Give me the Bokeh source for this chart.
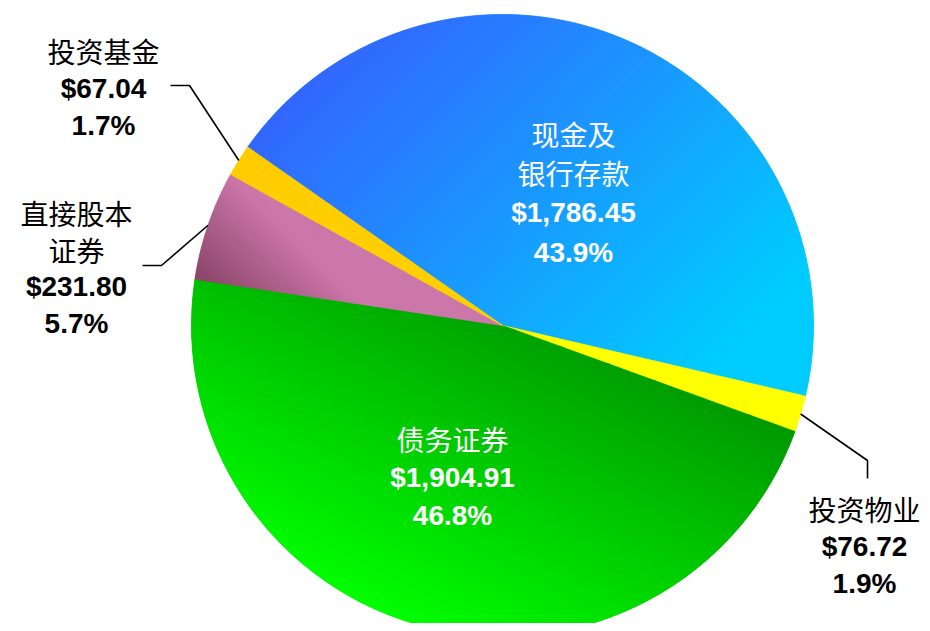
import numpy as np
from bokeh.plotting import figure
from bokeh.models import Range1d, ColumnDataSource
from bokeh.core.properties import value
from bokeh.embed import file_html
from bokeh.resources import INLINE

# ---------------- data ----------------
categories = ["现金及银行存款", "投资物业", "债务证券", "直接股本证券", "投资基金"]
name_lines = [["现金及", "银行存款"], ["投资物业"], ["债务证券"], ["直接股本", "证券"], ["投资基金"]]
amounts = [1786.45, 76.72, 1904.91, 231.80, 67.04]
percent_labels = ["43.9%", "1.9%", "46.8%", "5.7%", "1.7%"]

# ---------------- style / layout ----------------
W, H = 922, 623
CX, CY, R = 502.0, -325.0, 311.0        # data y = -picture y
START_DEG = 145.0                       # first slice starts here, goes clockwise

# gradient: screen direction, colour stops
grad = [
    ((1.0, 1.0), [(0.0, "#3366ff"), (0.85, "#00ccff"), (1.0, "#00ccff")]),
    ((1.0, 0.0), [(0.0, "#ffff00"), (1.0, "#ffff00")]),
    ((0.5, -1.0), [(0.0, "#00ff00"), (1.0, "#009900")]),
    ((1.0, -1.0), [(0.0, "#884466"), (0.55, "#cc77aa"), (1.0, "#cc77aa")]),
    ((1.0, 1.0), [(0.0, "#ffcc00"), (1.0, "#ffd000")]),
]
# label layout: (centre x, first line y, line step, colour) in picture pixels
label_layout = [
    (573, 133, 39.5, "white"),
    (864, 508, 37.5, "black"),
    (452, 438, 38.5, "white"),
    (76, 212, 37.0, "black"),
    (103, 50, 37.5, "black"),
]
# leader line elbows / ends for outside labels (picture pixels)
leaders = {
    1: [(867, 460), (867, 478)],
    3: [(161, 265), (142, 265)],
    4: [(189, 85), (170, 85)],
}

CJK_FONT = "Noto Sans CJK SC"
NUM_FONT = "Liberation Sans"

# ---------------- helpers ----------------
def hex2rgb(h):
    h = h.lstrip("#")
    return np.array([int(h[i:i + 2], 16) for i in (0, 2, 4)], float)


def color_at(stops, t):
    for (t0, c0), (t1, c1) in zip(stops[:-1], stops[1:]):
        if t <= t1 or (t1 == stops[-1][0]):
            f = 0.0 if t1 == t0 else min(max((t - t0) / (t1 - t0), 0), 1)
            c = hex2rgb(c0) * (1 - f) + hex2rgb(c1) * f
            return "#%02x%02x%02x" % tuple(int(round(v)) for v in c)
    return stops[-1][1]


def clip_half(poly, d, c, keep_greater):
    out = []
    n = len(poly)
    for i in range(n):
        P, Q = poly[i], poly[(i + 1) % n]
        pv, qv = P @ d - c, Q @ d - c
        if not keep_greater:
            pv, qv = -pv, -qv
        if pv >= 0:
            out.append(P)
        if (pv >= 0) != (qv >= 0):
            t = pv / (pv - qv)
            out.append(P + t * (Q - P))
    return np.array(out) if out else np.zeros((0, 2))


def wedge_poly(a0, a1):
    n = max(int(abs(a0 - a1) * 2), 4)
    ang = np.radians(np.linspace(a0, a1, n))
    pts = np.column_stack([CX + R * np.cos(ang), CY + R * np.sin(ang)])
    return np.vstack([[CX, CY], pts])


# ---------------- geometry from data ----------------
vals = np.array(amounts, float)
frac = vals / vals.sum()
ends = START_DEG - np.cumsum(frac) * 360.0
starts = np.concatenate([[START_DEG], ends[:-1]])
mids = (starts + ends) / 2.0

p = figure(width=W, height=H, output_backend="svg", toolbar_location=None,
           x_range=Range1d(0, W), y_range=Range1d(-H, 0),
           x_axis_location=None, y_axis_location=None, min_border=0,
           background_fill_color="white", border_fill_color="white")
p.outline_line_color = None
p.xgrid.visible = False
p.ygrid.visible = False

# base wedges
src = ColumnDataSource(dict(start=np.radians(starts), end=np.radians(ends), cat=categories,
                            color=[g[1][len(g[1]) // 2][1] for g in grad]))
p.wedge(x=CX, y=CY, radius=R, start_angle="start", end_angle="end",
        direction="clock", fill_color="color", line_color=None, source=src)

# gradient overlay strips
xs, ys, cols = [], [], []
NSTRIP = 60
for i in range(len(vals)):
    poly = wedge_poly(starts[i], ends[i])
    (sx, sy), stops = grad[i]
    d = np.array([sx, -sy], float)
    d /= np.linalg.norm(d)
    proj = poly @ d
    pmin, pmax = proj.min(), proj.max()
    for k in range(NSTRIP):
        lo = pmin + (pmax - pmin) * k / NSTRIP
        hi = pmin + (pmax - pmin) * (k + 1) / NSTRIP
        part = clip_half(poly, d, lo, True)
        if len(part) < 3:
            continue
        part = clip_half(part, d, hi, False)
        if len(part) < 3:
            continue
        xs.append(part[:, 0].tolist())
        ys.append(part[:, 1].tolist())
        cols.append(color_at(stops, (k + 0.5) / NSTRIP))
p.patches(xs, ys, fill_color=cols, line_color=cols, line_width=0.8)

# leader lines
for i, pts in leaders.items():
    a = np.radians(mids[i])
    lx = [CX + R * np.cos(a)] + [pt[0] for pt in pts]
    ly = [CY + R * np.sin(a)] + [-pt[1] for pt in pts]
    p.line(lx, ly, line_color="black", line_width=1.6)

# labels
cjk = dict(x=[], y=[], t=[], c=[])
num = dict(x=[], y=[], t=[], c=[])
for i in range(len(vals)):
    x0, y0, step, col = label_layout[i]
    lines = name_lines[i]
    k = 0
    for s in lines:
        cjk["x"].append(x0); cjk["y"].append(-(y0 + k * step)); cjk["t"].append(s); cjk["c"].append(col)
        k += 1
    for s in ["$" + format(amounts[i], ",.2f"), percent_labels[i]]:
        num["x"].append(x0); num["y"].append(-(y0 + k * step)); num["t"].append(s); num["c"].append(col)
        k += 1

p.text(x="x", y="y", text="t", text_color="c", source=ColumnDataSource(cjk),
       text_font=value(CJK_FONT), text_font_size="28px", text_align="center",
       text_baseline="middle")
p.text(x="x", y="y", text="t", text_color="c", source=ColumnDataSource(num),
       text_font=value(NUM_FONT), text_font_size="28px", text_font_style="bold",
       text_align="center", text_baseline="middle")

open("out.html", "w").write(file_html(p, INLINE))
